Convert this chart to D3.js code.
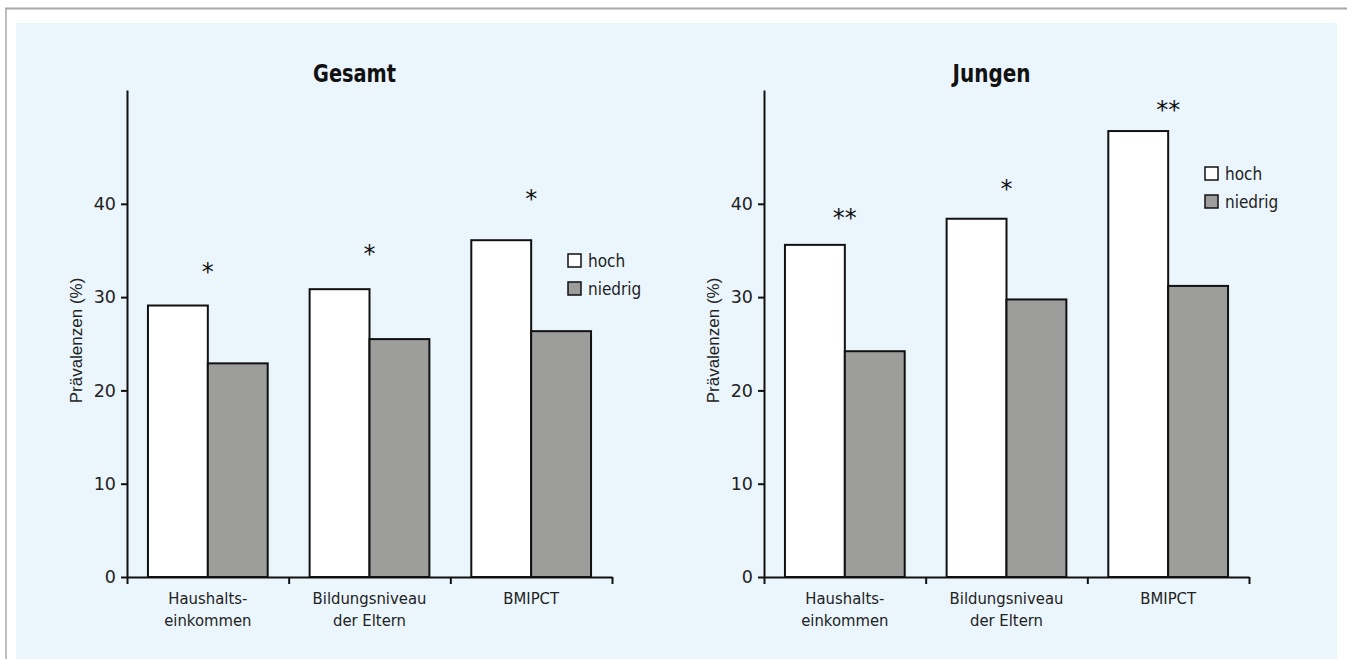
<!DOCTYPE html>
<html>
<head>
<meta charset="utf-8">
<script src="https://cdn.jsdelivr.net/npm/d3@7"></script>
<style>
  body { margin: 0; background: #fff; }
  svg { display: block; }
  .cond { font-family: "DejaVu Sans Condensed", "Liberation Sans Narrow", sans-serif; }
</style>
</head>
<body>
<svg id="chart"></svg>
<script>
const categories = [['Haushalts-', 'einkommen'], ['Bildungsniveau', 'der Eltern'], ['BMIPCT']]
const groups = ['hoch', 'niedrig']
const yTicks = [0, 10, 20, 30, 40]

const gesamtHoch = [29.1, 30.85, 36.1]
const gesamtNiedrig = [22.9, 25.5, 26.35]
const gesamtStars = ['*', '*', '*']
const gesamtStarY = [33.0, 34.95, 40.85]

const jungenHoch = [35.6, 38.4, 47.8]
const jungenNiedrig = [24.2, 29.75, 31.2]
const jungenStars = ['**', '*', '**']
const jungenStarY = [38.8, 41.9, 50.4]

const width = 1347
const height = 659
const svg = d3.select('#chart').attr('width', width).attr('height', height)

// frame + background
svg.append('rect').attr('x', 16).attr('y', 23).attr('width', 1321).attr('height', 636).attr('fill', '#eaf5fc')
svg.append('line').attr('x1', 5).attr('x2', width).attr('y1', 8.5).attr('y2', 8.5).attr('stroke', '#a8a8a8').attr('stroke-width', 2)
svg.append('line').attr('x1', 6).attr('x2', 6).attr('y1', 8).attr('y2', height).attr('stroke', '#a8a8a8').attr('stroke-width', 1.5)

const colors = { hoch: '#ffffff', niedrig: '#9d9d9c' }

const panels = [
  { title: 'Gesamt', titleW: 83, x0: 127, hoch: gesamtHoch, niedrig: gesamtNiedrig, stars: gesamtStars, starY: gesamtStarY, legendY: 254 },
  { title: 'Jungen', titleW: 78, x0: 764, hoch: jungenHoch, niedrig: jungenNiedrig, stars: jungenStars, starY: jungenStarY, legendY: 167 }
]

const plotW = 485
const yTop = 90
const yBottom = 577

panels.forEach(p => {
  const g = svg.append('g').attr('transform', `translate(${p.x0},0)`)
  const y = d3.scaleLinear().domain([0, 52.2]).range([yBottom, yTop])
  const x0 = d3.scaleBand().domain(d3.range(categories.length)).range([0, plotW]).padding(0)
  const x1 = d3.scaleBand().domain(groups).range([0, x0.bandwidth()]).paddingInner(0).paddingOuter(0.35)

  const rows = categories.map((c, i) => ({ i, hoch: p.hoch[i], niedrig: p.niedrig[i] }))

  g.selectAll('g.cat')
    .data(rows)
    .enter()
    .append('g')
    .attr('transform', d => `translate(${x0(d.i)},0)`)
    .selectAll('rect')
    .data(d => groups.map(k => ({ k, v: d[k] })))
    .enter()
    .append('rect')
    .attr('x', d => x1(d.k))
    .attr('y', d => y(d.v))
    .attr('width', x1.bandwidth())
    .attr('height', d => y(0) - y(d.v))
    .attr('fill', d => colors[d.k])
    .attr('stroke', '#111')
    .attr('stroke-width', 2)

  // y axis
  const yAxis = g.append('g')
    .call(d3.axisLeft(y).tickValues(yTicks).tickSize(6).tickSizeOuter(0).tickPadding(5))
  yAxis.select('.domain').attr('stroke', '#111').attr('stroke-width', 2)
  yAxis.selectAll('.tick line').attr('stroke', '#111').attr('stroke-width', 2)
  yAxis.selectAll('text')
    .style('font-family', '"DejaVu Sans", sans-serif')
    .style('font-size', '17.5px')
    .attr('fill', '#222')

  // x axis: ticks at band boundaries
  const xb = d3.scaleLinear().domain([0, categories.length]).range([0, plotW])
  const xAxis = g.append('g').attr('transform', `translate(0,${yBottom})`)
    .call(d3.axisBottom(xb).tickValues(d3.range(categories.length + 1)).tickFormat('').tickSize(7).tickSizeOuter(0))
  xAxis.select('.domain').attr('stroke', '#111').attr('stroke-width', 2)
  xAxis.selectAll('.tick line').attr('stroke', '#111').attr('stroke-width', 2)

  // category labels
  categories.forEach((lines, i) => {
    const cx = x0(i) + x0.bandwidth() / 2
    const t = g.append('text').attr('class', 'cond')
      .attr('x', cx)
      .attr('y', 603.5)
      .attr('text-anchor', 'middle')
      .style('font-size', '16.5px')
      .attr('fill', '#222')
    lines.forEach((l, j) => t.append('tspan').attr('x', cx).attr('dy', j ? 22.3 : 0).text(l))
  })

  // significance stars
  g.selectAll('text.star')
    .data(p.stars)
    .enter()
    .append('text')
    .attr('class', 'star')
    .attr('x', (d, i) => x0(i) + x0.bandwidth() / 2)
    .attr('y', (d, i) => y(p.starY[i]) + 11)
    .attr('text-anchor', 'middle')
    .style('font-family', '"DejaVu Sans", sans-serif')
    .style('font-size', '24px')
    .attr('fill', '#111')
    .text(d => d)

  // title
  g.append('text').attr('class', 'cond')
    .attr('x', 227.5)
    .attr('y', 82)
    .attr('text-anchor', 'middle')
    .attr('textLength', p.titleW)
    .attr('lengthAdjust', 'spacingAndGlyphs')
    .style('font-size', '25px')
    .style('font-weight', 'bold')
    .attr('fill', '#111')
    .text(p.title)

  // y label
  g.append('text')
    .attr('transform', `translate(${-45},${340.5}) rotate(-90)`)
    .attr('text-anchor', 'middle')
    .style('font-family', '"Liberation Sans", Arial, sans-serif')
    .style('font-size', '17px')
    .attr('fill', '#222')
    .text('Prävalenzen (%)')

  // legend
  const lg = g.append('g').attr('transform', `translate(${plotW - 44},${p.legendY})`)
  groups.forEach((k, j) => {
    lg.append('rect').attr('x', 0).attr('y', j * 28).attr('width', 13).attr('height', 13)
      .attr('fill', colors[k]).attr('stroke', '#111').attr('stroke-width', 1.5)
    lg.append('text').attr('class', 'cond').attr('x', 20).attr('y', j * 28 + 12.5)
      .style('font-size', '17px').attr('fill', '#222').text(k)
  })
})
</script>
</body>
</html>
